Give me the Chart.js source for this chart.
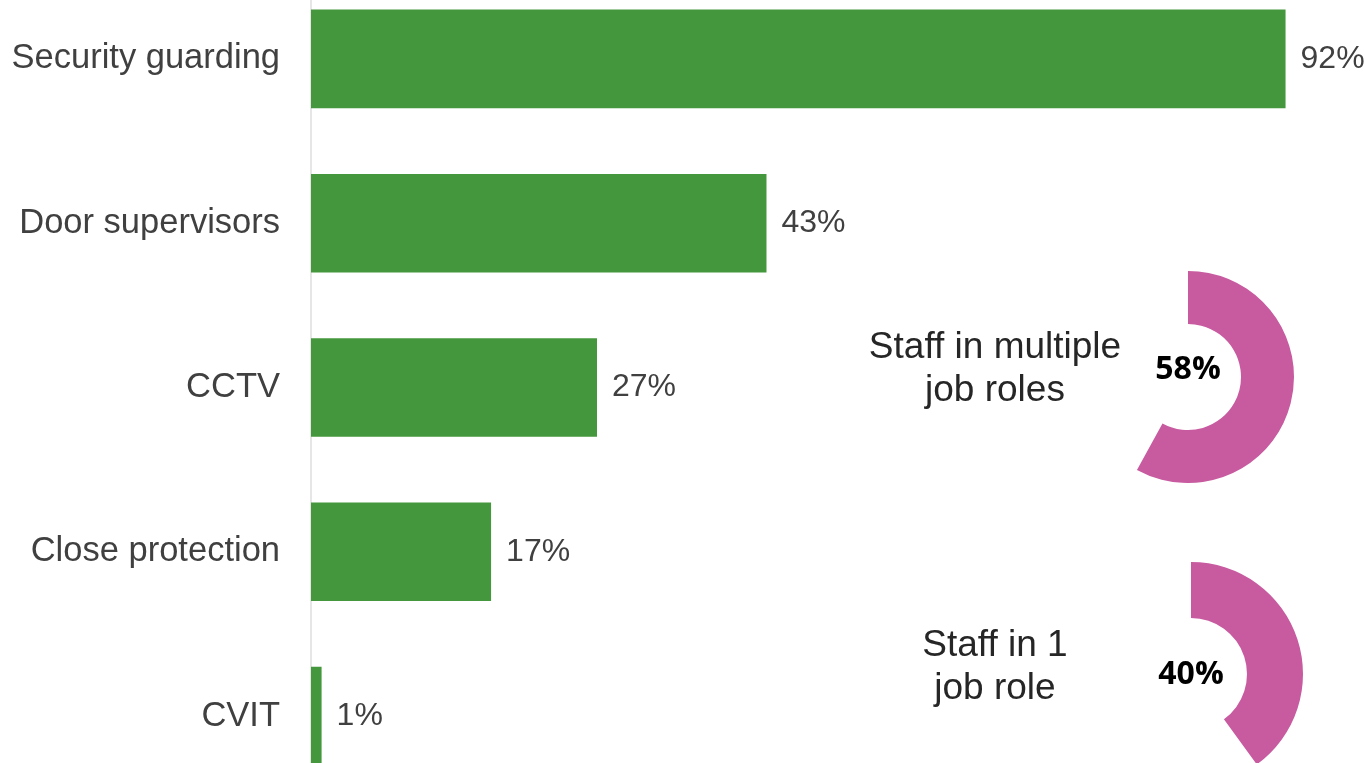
<!DOCTYPE html>
<html>
<head>
<meta charset="utf-8">
<script src="https://cdn.jsdelivr.net/npm/chart.js@4"></script>
<style>
  html, body { margin: 0; padding: 0; background: #fff; overflow: hidden; }
  body { width: 1365px; height: 763px; position: relative; }
  /* the y axis adds label padding above and below, so the canvas sticks out past the page */
  #bars-wrap { position: absolute; left: 0; top: -75px; width: 1365px; height: 925px; }
  .donut { position: absolute; }
  .donut-label {
    position: absolute; width: 300px; text-align: center;
    font-family: "Liberation Sans", Arial, sans-serif; font-size: 37px;
    line-height: 43px; color: #262626;
  }
</style>
</head>
<body>
<div id="bars-wrap"><canvas id="bar-chart" width="1365" height="925"></canvas></div>
<canvas id="donut-multi" class="donut" width="212" height="212" style="left:1082px;top:271px"></canvas>
<canvas id="donut-single" class="donut" width="224" height="224" style="left:1079px;top:562px"></canvas>
<div class="donut-label" style="left:845px;top:324px">Staff in multiple<br>job roles</div>
<div class="donut-label" style="left:845px;top:622px">Staff in 1<br>job role</div>

<script>
const roles = ['Security guarding', 'Door supervisors', 'CCTV', 'Close protection', 'CVIT']
const rolePct = [92, 43, 27, 17, 1]

const multiRoles = [58, 42]
const singleRole = [40, 60]

const green = '#44973C'
const pink = '#C85AA0'
const valueFont = '32px "Liberation Sans", Arial, sans-serif'

// draws "NN%" just right of each bar
const barValues = {
    id: 'barValues',
    afterDatasetsDraw(chart) {
        const ctx = chart.ctx
        const meta = chart.getDatasetMeta(0)
        ctx.save()
        ctx.font = valueFont
        ctx.fillStyle = '#404040'
        ctx.textBaseline = 'middle'
        meta.data.forEach((bar, i) => {
            ctx.fillText(rolePct[i] + '%', bar.x + 15, bar.y)
        })
        ctx.restore()
    }
}

new Chart(document.getElementById('bar-chart'), {
    type: 'bar',
    data: {
        labels: roles,
        datasets: [{
            data: rolePct,
            backgroundColor: green,
            categoryPercentage: 1,
            barPercentage: 0.6
        }]
    },
    options: {
        indexAxis: 'y',
        responsive: false,
        animation: false,
        layout: { padding: 0 },
        scales: {
            x: { min: 0, max: 99.5, display: false },
            y: {
                afterFit: axis => { axis.width = 311 },
                grid: { display: false, drawTicks: false },
                border: { display: true, color: '#e6e6e6', width: 2 },
                ticks: {
                    padding: 31,
                    color: '#404040',
                    font: { family: '"Liberation Sans", Arial, sans-serif', size: 34.5 }
                }
            }
        },
        plugins: { legend: { display: false }, tooltip: { enabled: false } }
    },
    plugins: [barValues]
})

function makeDonut(id, values, textShift) {
    const centerText = {
        id: 'centerText',
        afterDraw(chart) {
            const arc = chart.getDatasetMeta(0).data[0]
            const ctx = chart.ctx
            ctx.save()
            ctx.font = 'bold 32px "Open Sans", "Noto Sans", sans-serif'
            ctx.fillStyle = '#000'
            ctx.textAlign = 'center'
            ctx.textBaseline = 'middle'
            ctx.fillText(values[0] + '%', arc.x, arc.y + textShift)
            ctx.restore()
        }
    }
    return new Chart(document.getElementById(id), {
        type: 'doughnut',
        data: {
            labels: ['yes', 'rest'],
            datasets: [{
                data: values,
                backgroundColor: [pink, 'rgba(0,0,0,0)'],
                borderWidth: 0
            }]
        },
        options: {
            responsive: false,
            animation: false,
            cutout: '50%',
            plugins: { legend: { display: false }, tooltip: { enabled: false } }
        },
        plugins: [centerText]
    })
}

makeDonut('donut-multi', multiRoles, -7)
makeDonut('donut-single', singleRole, 1)
</script>
</body>
</html>
